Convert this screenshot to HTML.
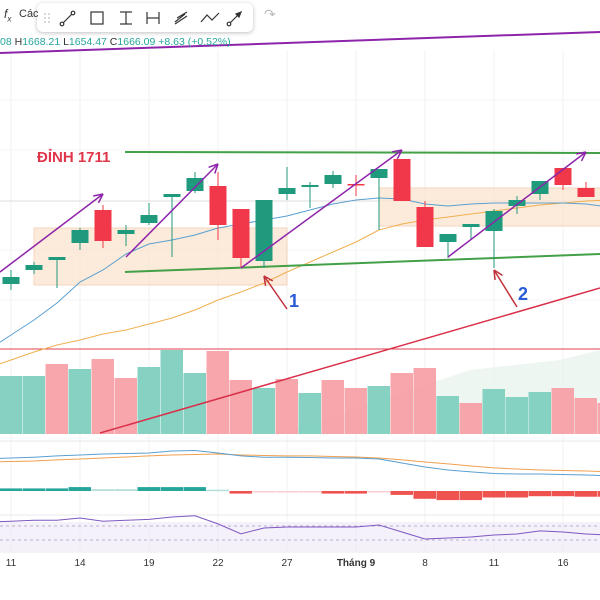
<!DOCTYPE html>
<html><head><meta charset="utf-8">
<style>
html,body{margin:0;padding:0;background:#fff;width:600px;height:600px;overflow:hidden;font-family:"Liberation Sans","Noto Sans CJK SC",sans-serif;}
#root{position:relative;width:600px;height:600px;}
svg{position:absolute;left:0;top:0;}
#toolbar{position:absolute;left:37px;top:3px;width:216px;height:29px;background:#fff;border-radius:6px;box-shadow:0 1px 4px rgba(0,0,0,0.25);}
</style></head>
<body>
<div id="root">
<svg id="chart" width="600" height="600"></svg>
<div id="toolbar">
<svg width="216" height="29">
 <g fill="#ccc"><circle cx="8" cy="11" r="1"/><circle cx="12" cy="11" r="1"/><circle cx="8" cy="15" r="1"/><circle cx="12" cy="15" r="1"/><circle cx="8" cy="19" r="1"/><circle cx="12" cy="19" r="1"/></g>
 <g stroke="#333" stroke-width="1.2" fill="none">
  <g><line x1="25" y1="21" x2="36" y2="10"/><circle cx="25" cy="21" r="1.8" fill="#fff"/><circle cx="36" cy="10" r="1.8" fill="#fff"/></g>
  <g><rect x="54" y="9" width="12" height="12"/></g>
  <g><line x1="83" y1="9" x2="95" y2="9"/><line x1="89" y1="9" x2="89" y2="21"/><line x1="83" y1="21" x2="95" y2="21"/></g>
  <g><line x1="110" y1="9" x2="110" y2="21"/><line x1="110" y1="15" x2="122" y2="15"/><line x1="122" y1="9" x2="122" y2="21"/></g>
  <g><path d="M138 19 L148 11 M138 21 L150 13 M140 15 L150 9"/></g>
  <g><path d="M164 19 L170 12 L175 17 L182 10"/></g>
  <g><line x1="192" y1="21" x2="204" y2="9"/><circle cx="192" cy="21" r="1.8" fill="#fff"/><path d="M204 9 L199 11 L202 14 Z" fill="#333"/></g>
 </g>
</svg>
</div>
<div style="position:absolute;left:4px;top:7px;font-size:12px;color:#333;font-style:italic;">f<sub style="font-size:8px">x</sub></div>
<div style="position:absolute;left:19px;top:8px;font-size:11px;color:#333;">Các</div>
<div style="position:absolute;left:264px;top:6px;font-size:14px;color:#bbb;">↷</div>
<div style="position:absolute;left:0;top:36px;font-size:10.5px;color:#26a69a;white-space:nowrap;">08 <span style="color:#333">H</span>1668.21 <span style="color:#333">L</span>1654.47 <span style="color:#333">C</span>1666.09 +8.63 (+0.52%)</div>
</div>
<script>
const dayLabels=["11","14","19","22","27","Tháng 9","8","11","16"];
const dayLabelIdx=[0,3,6,9,12,15,18,21,24];
const opens=[1645,1652,1657,1665.5,1682,1670,1675.5,1688.5,1691.5,1694,1682.5,1656.5,1690,1693.5,1695,1695,1698,1707.5,1683.5,1666,1673.5,1671.5,1684,1690,1703,1693,1692];
const highs=[1652,1656,1658.5,1673,1684.5,1674.5,1685.5,1690,1701,1701,1682.5,1687,1703.5,1696,1701.5,1699.5,1702.5,1707.5,1686.5,1670,1675,1682.5,1689,1696.5,1703,1696,1694];
const lows=[1642,1650,1643,1662,1663,1664,1674.5,1658.5,1690.5,1667,1653,1653,1687,1683,1693,1689,1672,1686.5,1663.5,1658,1667,1653,1680,1687,1692,1688.5,1683];
const closes=[1648.5,1654.5,1658.5,1672,1666.5,1672,1679.5,1690,1698,1674.5,1658,1687,1693,1694.5,1699.5,1694.5,1702.5,1686.5,1663.5,1670,1675,1681.5,1687,1696.5,1694.5,1688.5,1684.5];
const ma20=[1619.5,1627,1635.5,1646,1652,1660,1665,1667,1669.5,1673,1675,1677,1679,1682,1685,1687,1688,1687.5,1685,1684,1685,1685.5,1685.5,1685.5,1685.5,1685,1683.5];
const ma50=[1607,1611,1614.5,1617,1620,1622,1625,1628,1632,1637,1641,1645.5,1651,1656,1661,1666,1672,1675,1677,1678.5,1680,1681.5,1683,1684.5,1685.5,1686.5,1687];
const volumes=[58,58,70,65,75,56,67,84,61,83,54,46,55,41,54,46,48,61,66,38,31,45,37,42,46,36,31];
const volUp=[1,1,0,1,0,0,1,1,1,0,0,1,0,1,0,0,1,0,0,1,0,1,1,1,0,0,0];
const macdLine=[32.5,33,33.8,34.4,35,35.3,35.6,36.9,37.2,35.6,33.8,33,33,32.8,32.5,32.5,31.9,29.4,26.9,25,23.8,22.8,22.5,22.5,22.2,21.9,21.3];
const signalLine=[30.3,30.6,31.3,31.9,32.5,33.1,33.8,34.4,34.7,35,34.4,34.1,33.8,33.8,33.4,33.1,32.5,31.3,30,28.8,27.5,26.3,25.6,25,24.7,24.4,23.8];
const hist=[1,1,1,1.5,0.7,0.7,1.5,1.5,1.5,0.5,-1,-0.4,-0.4,-0.4,-1,-1,-0.5,-1.5,-3,-3.5,-3.5,-2.5,-2.5,-2,-2,-2.2,-2.2];
const rsi=[66,66.5,66.5,67.8,66,66.5,67,68.3,69,64.5,59,62.2,62.8,62.8,62.8,62.8,63.9,60,56.1,56.7,57.2,58.3,58.9,60.6,60,58.9,58.3];

const svg=document.getElementById('chart');
const NS='http://www.w3.org/2000/svg';
function mk(tag,attrs,parent){const e=document.createElementNS(NS,tag);for(const k in attrs)e.setAttribute(k,attrs[k]);(parent||svg).appendChild(e);return e;}
const step=23, x0=11;
function xAt(i){return x0+i*step;}
function yP(p){return 3574-2*p;}
function yV(v){return 434-v;}
function yM(m){return 510-m*1.6;}
function yH(h){return 491-h*2.6;}
function yR(r){return 640-r*1.8;}

for(let k=0;k<dayLabelIdx.length;k++){const gx=xAt(dayLabelIdx[k]);const l=mk('line',{x1:gx,y1:50,x2:gx,y2:552,stroke:'#f2f2f2'});}
[100,150,250,300].forEach(gy=>{const l=mk('line',{x1:0,y1:gy,x2:600,y2:gy,stroke:'#f4f4f4'});});
const pl=mk('line',{x1:0,y1:201,x2:600,y2:201,stroke:'#ddd'});
[441,515,552].forEach(y=>{const l=mk('line',{x1:0,y1:y,x2:600,y2:y,stroke:'#e8e8ec'});});

let z=mk('rect',{x:34,y:228,width:253,height:57,fill:'#fbe3cf',opacity:0.75,stroke:'#f0c9a8'});
z=mk('rect',{x:379,y:188,width:230,height:38,fill:'#fbe3cf',opacity:0.75,stroke:'#f0c9a8'});

let va=mk('path',{d:'M280 434 L380 400 L470 370 L560 360 L600 350 L600 434 Z',fill:'#e6f2ea',opacity:0.7});
for(let i=0;i<volumes.length;i++){const b=mk('rect',{x:xAt(i)-11.5,y:yV(volumes[i]),width:22.5,height:volumes[i],fill:volUp[i]?'#7fcfbf':'#f7a1a6',opacity:0.95});}
let hr=mk('line',{x1:0,y1:349,x2:600,y2:349,stroke:'#e0404f','stroke-width':1});
let rd=mk('line',{x1:100,y1:433,x2:600,y2:288,stroke:'#d9304a','stroke-width':1.5});

function poly(arr,fy,color,name,w){
 const pts=arr.map((v,i)=>xAt(i)+','+fy(v));
 const y0=fy(arr[0])-(fy(arr[1])-fy(arr[0]))*x0/step;
 pts.unshift('0,'+y0);
 const p=mk('polyline',{points:pts.join(' '),fill:'none',stroke:color,'stroke-width':w||1});return p;}
poly(ma50,yP,'#f0b050','ma-50-line');
poly(ma20,yP,'#5aa0d0','ma-20-line');

let g1=mk('line',{x1:125,y1:152,x2:600,y2:153,stroke:'#43a047','stroke-width':2});
let g2=mk('line',{x1:125,y1:272,x2:600,y2:254,stroke:'#43a047','stroke-width':2});
let pt=mk('line',{x1:0,y1:53,x2:600,y2:32,stroke:'#8e24aa','stroke-width':2});

for(let i=0;i<opens.length;i++){const up=closes[i]>=opens[i];const c=up?'#1f9a7c':'#f0384a';const x=xAt(i);
 const w=mk('line',{x1:x,y1:yP(highs[i]),x2:x,y2:yP(lows[i]),stroke:c,'stroke-width':1});
 const t=Math.min(yP(opens[i]),yP(closes[i]));const h=Math.max(1.5,Math.abs(yP(opens[i])-yP(closes[i])));
 const b=mk('rect',{x:x-8.5,y:t,width:17,height:h,fill:c});}

function arrow(x1,y1,x2,y2,color,name,w){const g=mk('g',{});
 mk('line',{x1:x1,y1:y1,x2:x2,y2:y2,stroke:color,'stroke-width':w},g);
 const a=Math.atan2(y2-y1,x2-x1),L=10;
 [0.45,-0.45].forEach(d=>mk('line',{x1:x2,y1:y2,x2:x2-L*Math.cos(a+d),y2:y2-L*Math.sin(a+d),stroke:color,'stroke-width':w},g));}
arrow(0,272,103,194,'#8e24aa','momentum-arrow-1',1.5);
arrow(126,257,218,164,'#8e24aa','momentum-arrow-2',1.5);
arrow(241,268,402,150,'#8e24aa','momentum-arrow-3',1.5);
arrow(448,257,586,152,'#8e24aa','momentum-arrow-4',1.5);
arrow(287,309,264,276,'#c0303a','support-arrow-1',1.5);
arrow(517,307,494,270,'#c0303a','support-arrow-2',1.5);

function txt(x,y,s,attrs,name){const t=mk('text',Object.assign({x:x,y:y},attrs));t.textContent=s;return t;}
txt(37,162,'ĐỈNH 1711',{fill:'#e0364a','font-size':15,'font-weight':'bold','font-family':'Liberation Sans, sans-serif'},'peak-label');
txt(289,307,'1',{fill:'#2a5bd7','font-size':18,'font-weight':'bold','font-family':'Liberation Sans, sans-serif'},'support-label-1');
txt(518,300,'2',{fill:'#2a5bd7','font-size':18,'font-weight':'bold','font-family':'Liberation Sans, sans-serif'},'support-label-2');

for(let i=0;i<hist.length;i++){const h=hist[i];const y=h>=0?yH(h):491;const strong=Math.abs(h)>=1;const c=h>=0?(strong?'#26a69a':'#b2dfdb'):(strong?'#ef5350':'#ffcdd2');
 const b=mk('rect',{x:xAt(i)-11.5,y:y,width:22.5,height:Math.max(1.5,Math.abs(h)*2.6),fill:c});}
poly(signalLine,yM,'#f0a050','macd-signal-line');
poly(macdLine,yM,'#5aa0d0','macd-line');

let rb=mk('rect',{x:0,y:522,width:600,height:29,fill:'#ede7f6',opacity:0.6});
[526,540].forEach(y=>{const l=mk('line',{x1:0,y1:y,x2:600,y2:y,stroke:'#9e9ebe','stroke-dasharray':'3,3','stroke-width':0.8});});
poly(rsi,yR,'#7e57c2','rsi-line');

for(let k=0;k<dayLabels.length;k++){txt(xAt(dayLabelIdx[k]),566,dayLabels[k],{'text-anchor':'middle','font-size':10,fill:'#333','font-family':'Liberation Sans, sans-serif','font-weight':dayLabels[k]==='Tháng 9'?'bold':'normal'},'x-axis-tick-label');}
</script>
</body></html>
